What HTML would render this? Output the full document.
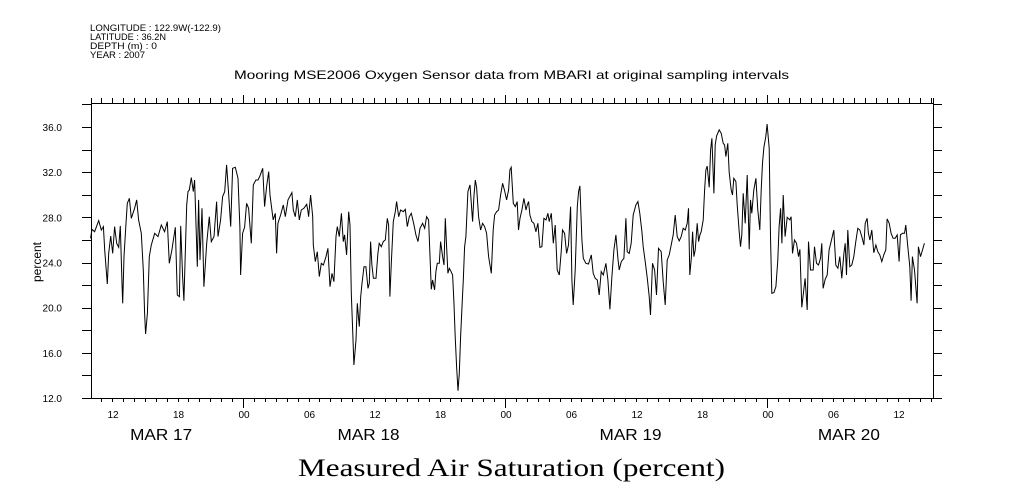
<!DOCTYPE html>
<html><head><meta charset="utf-8"><style>
html,body{margin:0;padding:0;background:#fff;width:1009px;height:504px;overflow:hidden}
svg{display:block}
text{font-family:"Liberation Sans",sans-serif;fill:#000}
</style></head><body>
<svg id="chart" width="1009" height="504" viewBox="0 0 1009 504" xmlns="http://www.w3.org/2000/svg">
<g font-size="9">
<text x="90" y="31" textLength="131" lengthAdjust="spacingAndGlyphs">LONGITUDE : 122.9W(-122.9)</text>
<text x="90" y="40" textLength="76" lengthAdjust="spacingAndGlyphs">LATITUDE : 36.2N</text>
<text x="90" y="49" textLength="67" lengthAdjust="spacingAndGlyphs">DEPTH (m) : 0</text>
<text x="90" y="58" textLength="55" lengthAdjust="spacingAndGlyphs">YEAR : 2007</text>
</g>
<text x="234" y="79" font-size="12" textLength="555" lengthAdjust="spacingAndGlyphs">Mooring MSE2006 Oxygen Sensor data from MBARI at original sampling intervals</text>
<text x="298" y="476" font-size="25" textLength="427" lengthAdjust="spacingAndGlyphs" style="font-family:'Liberation Serif',serif">Measured Air Saturation (percent)</text>
<text transform="translate(41,262) rotate(-90)" font-size="12" text-anchor="middle">percent</text>
<g id="axes"></g>
<path id="series" fill="none" stroke="#000" stroke-width="1"/>
</svg>
<script>
const times = [10.04,10.17,10.41,10.78,11.02,11.21,11.33,11.57,11.70,11.88,12.06,12.24,12.43,12.61,12.76,12.92,12.98,13.10,13.28,13.40,13.59,13.77,14.07,14.26,14.44,14.68,14.87,14.99,15.08,15.24,15.42,15.60,15.91,16.21,16.52,16.82,17.07,17.25,17.49,17.80,17.98,18.17,18.29,18.47,18.59,18.84,18.96,19.08,19.26,19.45,19.57,19.75,19.81,19.93,20.06,20.24,20.42,20.67,20.91,21.10,21.34,21.58,21.71,21.95,22.13,22.32,22.50,22.68,22.87,23.05,23.29,23.54,23.72,23.78,23.96,24.15,24.33,24.51,24.76,24.94,25.18,25.37,25.55,25.80,25.98,26.16,26.35,26.47,26.65,26.77,26.96,27.08,27.20,27.44,27.69,27.87,28.12,28.48,28.61,28.79,28.97,29.16,29.34,29.58,29.83,29.95,
30.01,30.19,30.38,30.44,30.62,30.81,30.99,31.17,31.36,31.60,31.78,31.97,32.15,32.33,32.52,32.64,32.82,33.01,33.19,33.31,33.49,33.68,33.80,33.92,34.04,34.16,34.35,34.47,34.65,34.78,34.90,35.08,35.26,35.45,35.57,35.69,35.81,35.94,36.18,36.36,36.48,36.67,36.85,37.03,37.22,37.34,37.46,37.58,37.77,37.95,38.07,38.26,38.44,38.68,38.87,39.05,39.23,39.42,39.66,39.84,40.03,40.21,40.45,40.64,40.82,41.00,41.12,41.25,41.37,41.55,41.67,41.80,41.98,42.10,42.28,42.41,42.53,42.65,42.77,42.90,43.02,43.20,43.32,43.44,43.57,43.69,43.81,43.93,44.06,44.18,44.30,44.42,44.60,44.79,44.91,45.03,45.15,45.28,45.40,45.58,45.76,45.95,46.13,46.31,46.50,46.74,46.92,47.05,47.23,47.41,47.60,47.78,47.96,48.15,48.33,48.45,48.57,48.76,48.94,49.12,49.24,49.37,
49.55,49.73,49.92,50.04,50.16,50.28,50.46,50.65,50.83,51.01,51.20,51.38,51.56,51.75,51.93,52.05,52.24,52.42,52.60,52.78,52.97,53.15,53.27,53.46,53.64,53.82,54.01,54.13,54.25,54.43,54.62,54.74,54.86,55.04,55.17,55.41,55.65,55.90,56.08,56.26,56.45,56.63,56.81,57.00,57.24,57.42,57.61,57.79,57.97,58.16,58.34,58.46,58.65,58.89,59.07,59.19,59.38,59.56,59.74,59.99,60.17,60.35,60.54,60.66,60.84,61.03,61.21,61.33,61.51,61.70,61.88,62.06,62.31,62.49,62.67,62.86,63.04,63.22,63.41,63.59,63.77,63.96,64.14,64.32,64.51,64.69,64.81,64.93,65.06,65.18,65.30,65.42,65.60,65.73,65.85,65.97,66.15,66.28,66.40,66.52,66.70,66.83,66.95,67.13,67.25,67.38,67.62,67.80,67.99,68.11,68.23,68.41,68.54,
68.72,68.84,68.96,69.15,69.27,69.45,69.57,69.69,69.82,70.00,70.18,70.31,70.37,70.49,70.61,70.79,70.98,71.16,71.34,71.47,71.59,71.71,71.89,72.01,72.20,72.32,72.44,72.63,72.81,72.99,73.11,73.24,73.36,73.48,73.66,73.85,74.09,74.21,74.33,74.52,74.70,74.88,75.01,75.19,75.31,75.49,75.68,75.80,75.98,76.23,76.35,76.53,76.72,76.90,77.02,77.14,77.33,77.51,77.69,77.94,78.12,78.30,78.49,78.67,78.85,79.04,79.16,79.28,79.40,79.58,79.77,79.95,80.13,80.32,80.50,80.68,80.87,80.99,81.17,81.29,81.42,81.60,81.78,81.97,82.15,82.33,82.51,82.70,82.88,83.00,83.19,83.37,83.55,83.74,83.92,84.10,84.22,84.41,84.59,84.71,84.90,85.08,85.20,85.32,85.51,85.63,85.75,85.87,86.06,86.24,86.42];
const oxygen = [26.14,26.94,26.73,27.71,26.88,27.18,25.11,22.10,24.81,26.35,24.81,27.18,25.70,25.35,27.24,22.16,20.39,24.52,27.47,29.24,29.69,27.91,28.80,29.54,27.77,26.59,23.34,19.50,17.67,19.50,24.52,25.55,26.59,26.29,27.32,26.73,27.62,23.93,25.11,27.12,21.12,20.98,27.24,22.75,20.62,29.10,30.28,30.42,31.52,30.28,31.31,25.70,23.63,29.54,24.22,28.80,21.86,25.70,28.06,25.85,26.29,29.39,26.29,27.77,29.83,30.28,32.64,30.13,27.18,32.34,32.43,31.46,27.12,22.89,26.59,27.12,29.24,28.80,25.70,30.87,31.31,31.31,31.66,32.34,28.95,30.72,32.05,29.98,28.65,27.77,28.36,24.81,27.47,28.21,29.10,28.06,29.54,30.19,28.65,28.06,29.54,27.77,28.65,28.80,29.15,28.50,
28.06,29.98,28.06,25.55,24.08,24.96,22.75,23.93,23.78,24.52,25.26,21.86,23.04,22.30,26.29,27.18,26.29,28.36,25.85,26.44,24.67,28.50,27.32,21.27,18.17,14.92,17.14,20.39,18.32,20.98,22.16,23.63,23.63,21.71,22.16,25.85,23.78,22.60,22.60,24.81,25.70,25.40,25.85,26.00,27.91,27.32,20.98,23.93,27.62,28.50,29.39,28.06,28.65,28.50,28.71,27.18,28.06,28.36,27.32,26.44,25.85,27.03,27.47,27.03,28.06,27.77,24.81,21.63,22.45,21.57,23.19,23.93,23.93,25.85,24.52,23.78,27.91,25.40,23.04,23.49,23.28,22.89,20.53,17.43,14.78,12.65,14.19,17.43,20.09,22.45,25.40,26.29,30.28,30.87,29.24,27.62,29.83,31.31,30.66,28.06,26.88,27.47,27.18,26.59,24.52,23.04,26.88,28.21,28.50,28.65,29.98,31.01,30.36,29.54,30.42,32.20,32.43,29.24,28.95,29.39,26.88,27.91,
28.65,29.69,28.65,29.10,29.39,28.21,27.62,27.47,26.73,27.47,25.35,25.40,27.91,27.77,28.36,27.62,28.36,25.70,27.32,23.34,22.89,24.96,26.88,26.59,24.81,25.55,28.95,22.45,20.24,23.34,28.95,30.28,30.78,25.99,24.37,23.93,23.87,24.67,23.04,22.60,22.45,21.12,23.19,22.89,23.93,22.45,19.85,22.75,25.11,26.44,24.37,23.34,24.08,24.37,27.91,24.96,24.81,25.70,28.21,29.10,29.39,28.36,26.73,25.40,24.08,22.60,20.98,19.35,23.93,23.34,21.12,25.26,24.96,22.30,20.24,24.22,24.67,25.55,26.44,28.21,26.29,25.91,26.29,27.03,26.88,27.47,28.80,22.89,24.37,26.73,24.52,25.11,27.47,25.85,26.44,26.73,27.77,30.42,32.20,32.55,30.66,33.97,35.00,30.13,34.41,35.21,35.74,35.44,34.56,34.41,33.38,34.56,31.96,
30.42,29.98,31.46,31.16,29.10,26.73,25.40,26.44,30.13,27.47,31.75,27.32,25.17,29.54,28.36,30.42,31.46,28.65,26.88,30.42,32.79,34.20,35.15,36.27,34.11,26.29,21.27,21.33,21.86,24.22,27.18,28.80,25.70,29.98,26.29,28.00,27.77,28.06,24.81,25.99,25.70,24.52,25.17,20.03,21.12,22.60,19.79,25.85,23.34,23.34,25.40,23.93,23.78,24.37,25.70,21.71,22.51,22.89,25.11,26.14,26.88,23.78,23.49,24.52,22.60,24.81,25.70,22.89,26.88,23.63,23.78,24.52,25.85,27.03,26.88,26.29,25.55,27.47,27.91,26.59,25.99,26.88,24.87,25.55,24.96,24.67,24.08,24.67,25.11,27.86,27.47,26.59,26.14,26.14,26.44,24.08,26.44,26.59,26.59,27.32,25.40,23.63,20.62,24.52,23.34,21.86,20.39,25.40,24.52,25.11,25.70];
const yTickValues = [12,16,20,24,28,32,36];
const yTickLabels = ["12.0","16.0","20.0","24.0","28.0","32.0","36.0"];
const xTickHours = [12,18,24,30,36,42,48,54,60,66,72,78,84];
const xTickLabels = ["12","18","00","06","12","18","00","06","12","18","00","06","12"];
const dayLabels = ["MAR 17","MAR 18","MAR 19","MAR 20"];
const dayLabelHours = [16.5,35.5,59.5,79.5];

const L=91,R=933,T=103,B=398;
const X0=112, HPX=10.917;
function xs(h){return X0+(h-12)*HPX;}
function ys(v){return B-(v-12)*(B-127)/24;}
const NS="http://www.w3.org/2000/svg";
const ax=document.getElementById('axes');
function ln(x1,y1,x2,y2,name){const e=document.createElementNS(NS,'line');e.setAttribute('x1',x1);e.setAttribute('y1',y1);e.setAttribute('x2',x2);e.setAttribute('y2',y2);e.setAttribute('stroke','#000');e.setAttribute('stroke-width','1');


ax.appendChild(e);return e;}
function tx(x,y,s,size,anchor,name){const e=document.createElementNS(NS,'text');e.setAttribute('x',x);e.setAttribute('y',y);e.setAttribute('font-size',size);e.setAttribute('text-anchor',anchor);e.textContent=s;


ax.appendChild(e);return e;}
const c=0.5;
ln(L+c,T+c,R+c,T+c,'top-axis-line');
ln(82,B+c,942,B+c,'bottom-axis-line');
ln(L+c,T-5,L+c,B+c,'left-axis-line');
ln(R+c,T-5,R+c,B+c,'right-axis-line');
for(let v=12;v<=38;v+=2){const y=Math.round(ys(v))+c;if(y<T)continue;ln(82,y,L,y,'y-tick-left');ln(R,y,942,y,'y-tick-right');}
yTickValues.forEach((v,i)=>{tx(62,ys(v)+4,yTickLabels[i],10,'end','y-tick-label');});
for(let h=10;h<=87;h++){const x=Math.round(xs(h))+c;if(x<=L||x>=R)continue;const mid=(h%24===0);ln(x,B,x,B+(mid?10:4),'x-tick-bottom');ln(x,T,x,T-(mid?8:5),'x-tick-top');}
xTickHours.forEach((h,i)=>{tx(xs(h)+1,418,xTickLabels[i],10,'middle','x-tick-label');});
dayLabels.forEach((s,i)=>{const e=tx(xs(dayLabelHours[i]),440,s,16,'middle','day-label');e.setAttribute('textLength','62');e.setAttribute('lengthAdjust','spacingAndGlyphs');});
let d='';
times.forEach((t,i)=>{d+=(i?'L':'M')+xs(t).toFixed(1)+' '+ys(oxygen[i]).toFixed(1);});
document.getElementById('series').setAttribute('d',d);
</script>
</body></html>
